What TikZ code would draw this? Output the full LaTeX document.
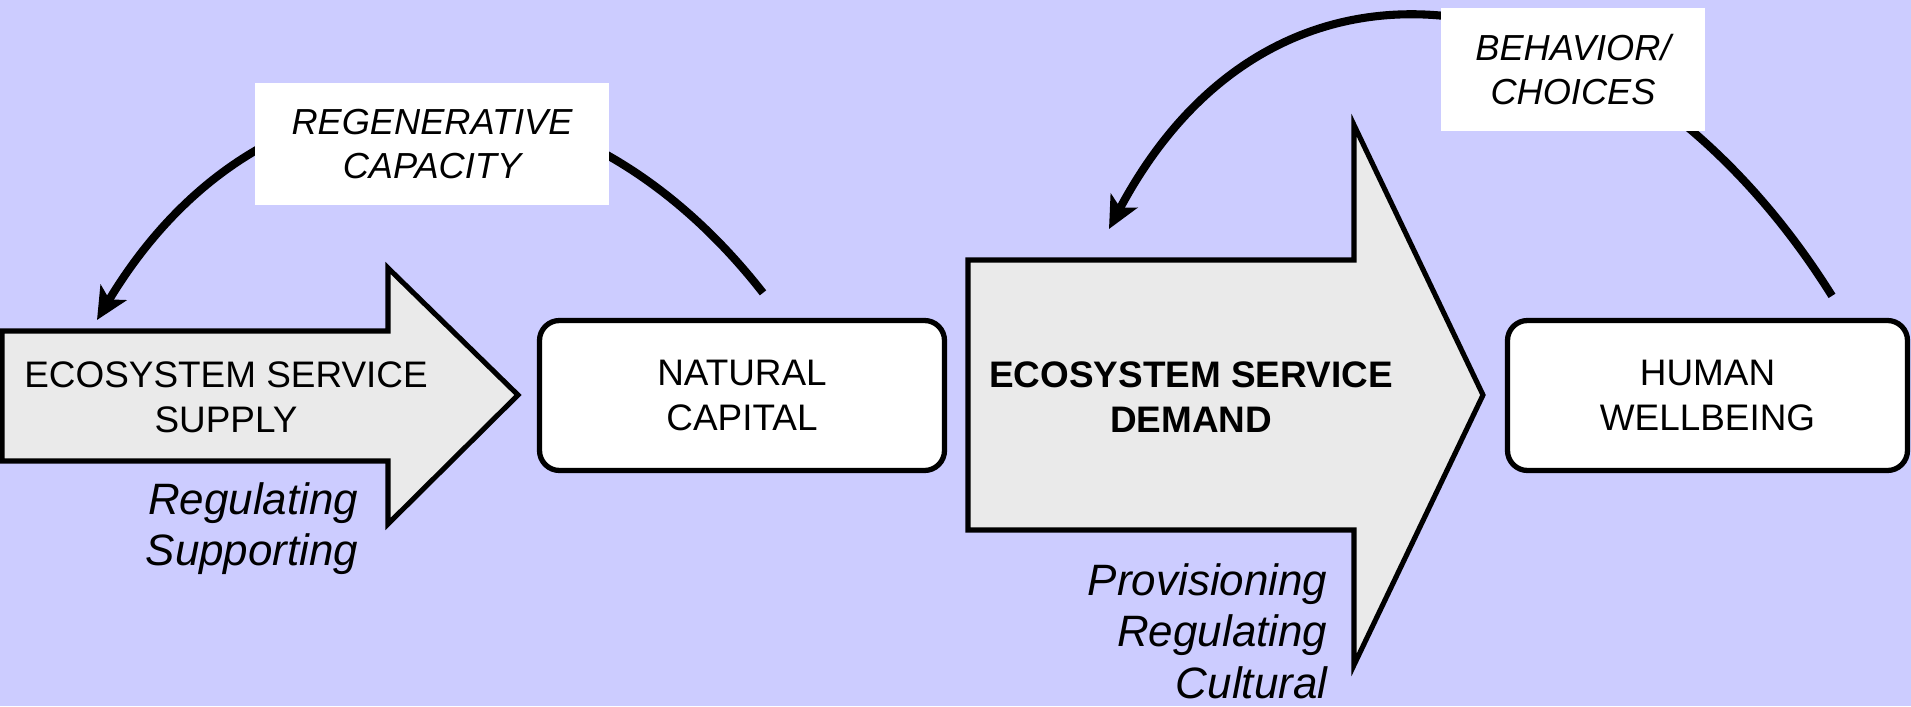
\documentclass[tikz,border=0pt]{standalone}
\usepackage{xcolor}
\usepackage{fontspec}
\setmainfont{Liberation Sans}
\usepackage{tikz}
\usetikzlibrary{shapes, positioning, arrows.meta}

\definecolor{bgblue}{RGB}{204,204,255}
\definecolor{arrowgray}{RGB}{234,234,234}

\tikzset{
	box/.style = {draw, line width=1.5pt, fill=white, rounded corners=2mm, align=center, minimum height=15mm, font=\fontsize{10.5}{12.8}\selectfont},
	tag/.style = {fill=white, align=center, inner sep=0pt, font=\fontsize{10.3}{12.5}\selectfont\itshape},
	bigarrow/.style = {draw, line width=1.45pt, fill=arrowgray},
	servtext/.style = {align=center, inner sep=0pt, font=\fontsize{10.5}{12.8}\selectfont},
	kinds/.style = {align=right, inner sep=0pt, anchor=north east, font=\fontsize{12.5}{14.7}\selectfont\itshape},
	feedback/.style = {line width=2.3pt, -{Stealth[length=3.2mm, width=3mm, inset=0.8mm]}}
}

\begin{document}
\begin{tikzpicture}[x=0.1mm, y=0.1mm]
	\fill[bgblue] (0,0) rectangle (1911,706);
	\useasboundingbox (0,0) rectangle (1911,706);

	% service arrows
	\draw[bigarrow] (2,375) -- (388,375) -- (388,438) -- (518,311) -- (388,182) -- (388,245) -- (2,245) -- cycle;
	\draw[bigarrow] (968,446) -- (1354,446) -- (1354,581) -- (1483,311) -- (1354,41) -- (1354,176) -- (968,176) -- cycle;

	\node[servtext] (supply) at (226,309) {ECOSYSTEM SERVICE\\SUPPLY};
	\node[servtext, font=\fontsize{10.5}{12.8}\selectfont\bfseries] (demand) at (1191,309) {ECOSYSTEM SERVICE\\DEMAND};
	\node[kinds] (supplykinds) at (359,224.5) {Regulating\\Supporting};
	\node[kinds] (demandkinds) at (1328,143.5) {Provisioning\\Regulating\\Cultural};

	\node[box, minimum width=40.5mm] (natcap) at (742,310.5) {NATURAL\\CAPITAL};
	\node[box, minimum width=40mm] (wellbeing) at (1707.5,310.5) {HUMAN\\WELLBEING};

	% feedback loops
	\coordinate (regen-start) at ([shift={(2.1mm,2.5mm)}]natcap.north);
	\coordinate (regen-end) at (97,386);
	\coordinate (behav-start) at ([shift={(12.45mm,2.2mm)}]wellbeing.north);
	\coordinate (behav-end) at (1109,477);

	\draw[feedback] (regen-start) to[out=128, in=59, looseness=1.24] (regen-end);
	\draw[feedback] (behav-start) to[out=122, in=62, looseness=1.31] (behav-end);

	\node[tag, minimum width=35.4mm, minimum height=12.2mm] (regen) at (432,562) {REGENERATIVE\\CAPACITY};
	\node[tag, minimum width=26.4mm, minimum height=12.3mm] (behavior) at (1573,636.5) {BEHAVIOR/\\CHOICES};
\end{tikzpicture}
\end{document}
